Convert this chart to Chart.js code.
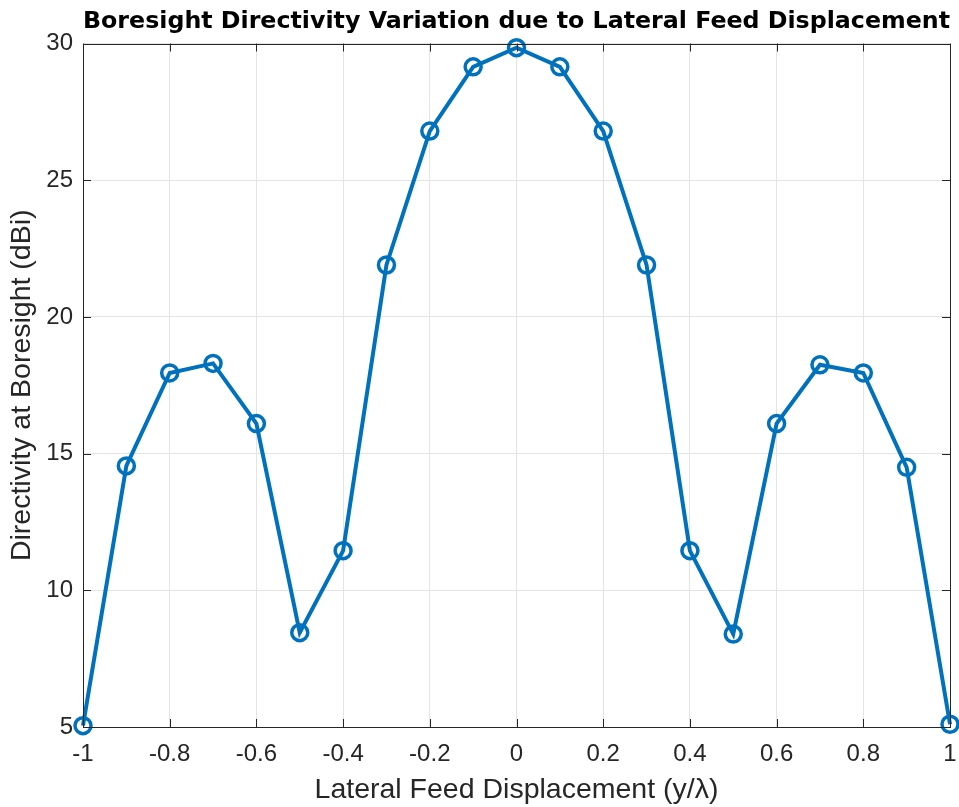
<!DOCTYPE html>
<html>
<head>
<meta charset="utf-8">
<script src="https://cdn.jsdelivr.net/npm/chart.js@4.4.1/dist/chart.umd.min.js"></script>
<style>
  html, body { margin: 0; padding: 0; background: #fff; }
  #wrap { width: 959px; height: 807px; }
</style>
</head>
<body>
<div id="wrap"><canvas id="plot"></canvas></div>
<script>
// displacement in wavelengths and the directivity
const displacement = [-1, -0.9, -0.8, -0.7, -0.6, -0.5, -0.4, -0.3, -0.2, -0.1, 0,
                      0.1, 0.2, 0.3, 0.4, 0.5, 0.6, 0.7, 0.8, 0.9, 1];
const directivity = [5.05, 14.55, 17.95, 18.3, 16.1, 8.45, 11.45, 21.9, 26.8, 29.15, 29.85,
                     29.15, 26.8, 21.9, 11.45, 8.4, 16.1, 18.25, 17.95, 14.5, 5.1];
const yTicks = [5, 10, 15, 20, 25, 30];

const axisColor = '#262626';
const fontFamily = '"Liberation Sans", Arial, Helvetica, sans-serif';

// MATLAB style: closed box with inward tick marks
const boxPlugin = {
  id: 'box',
  afterDraw(chart) {
    const { ctx, chartArea: a, scales } = chart;
    ctx.save();
    ctx.strokeStyle = axisColor;
    ctx.lineWidth = 1;
    ctx.beginPath();
    scales.x.ticks.forEach(t => {
      const px = Math.round(scales.x.getPixelForValue(t.value)) + 0.5;
      ctx.moveTo(px, a.bottom); ctx.lineTo(px, a.bottom - 8);
      ctx.moveTo(px, a.top); ctx.lineTo(px, a.top + 8);
    });
    scales.y.ticks.forEach(t => {
      const py = Math.round(scales.y.getPixelForValue(t.value)) + 0.5;
      ctx.moveTo(a.left, py); ctx.lineTo(a.left + 8, py);
      ctx.moveTo(a.right, py); ctx.lineTo(a.right - 8, py);
    });
    ctx.stroke();
    ctx.strokeRect(Math.round(a.left) + 0.5, Math.round(a.top) + 0.5,
                   Math.round(a.right - a.left), Math.round(a.bottom - a.top));
    ctx.restore();
  }
};

new Chart(document.getElementById('plot').getContext('2d'), {
  type: 'line',
  data: {
    datasets: [{
      data: displacement.map((x, i) => ({ x: x, y: directivity[i] })),
      borderColor: '#0072BD',
      borderWidth: 4,
      pointRadius: 8,
      pointBorderWidth: 3.5,
      pointBackgroundColor: 'rgba(0,0,0,0)',
      pointBorderColor: '#0072BD',
      tension: 0,
      clip: false
    }]
  },
  options: {
    responsive: true,
    maintainAspectRatio: false,
    animation: false,
    layout: { autoPadding: false, padding: { top: 0, right: 9, bottom: 0, left: 0 } },
    plugins: {
      legend: { display: false },
      tooltip: { enabled: false },
      title: {
        display: true,
        fullSize: false,
        text: 'Boresight Directivity Variation due to Lateral Feed Displacement',
        color: '#000',
        font: { family: '"DejaVu Sans", sans-serif', size: 23.8, weight: 'bold' },
        padding: { top: 8, bottom: 7 }
      }
    },
    scales: {
      x: {
        type: 'linear',
        min: -1,
        max: 1,
        afterFit(scale) { scale.height = 80; scale.paddingLeft = 0; scale.paddingRight = 0; },
        grid: { color: '#e4e4e4', drawTicks: false },
        border: { display: false },
        ticks: {
          stepSize: 0.2,
          padding: 13,
          maxRotation: 0,
          color: axisColor,
          font: { family: fontFamily, size: 24 },
          callback: v => String(Math.round(v * 10) / 10)
        },
        title: {
          display: true,
          text: 'Lateral Feed Displacement (y/λ)',
          color: axisColor,
          font: { family: fontFamily, size: 28.5 },
          padding: { top: 0, bottom: 0 }
        }
      },
      y: {
        min: yTicks[0],
        max: yTicks[yTicks.length - 1],
        afterFit(scale) { scale.width = 83; },
        afterBuildTicks(scale) { scale.ticks = yTicks.map(v => ({ value: v })); },
        grid: { color: '#e4e4e4', drawTicks: false },
        border: { display: false },
        ticks: {
          padding: 10,
          color: axisColor,
          font: { family: fontFamily, size: 24 }
        },
        title: {
          display: true,
          text: 'Directivity at Boresight (dBi)',
          color: axisColor,
          font: { family: fontFamily, size: 28.5 },
          padding: { top: 5, bottom: 0 }
        }
      }
    }
  },
  plugins: [boxPlugin]
});
</script>
</body>
</html>
